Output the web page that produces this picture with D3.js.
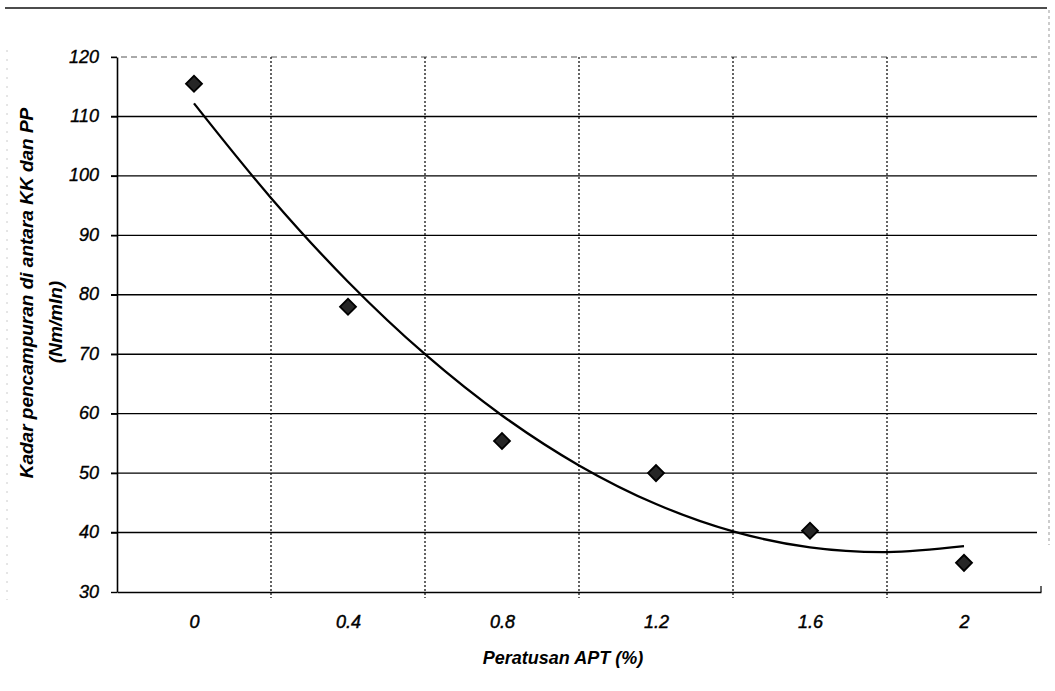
<!DOCTYPE html>
<html>
<head>
<meta charset="utf-8">
<script src="https://cdn.jsdelivr.net/npm/d3@7"></script>
<style>
  body { margin: 0; background: #fff; }
  text { font-family: Arial, "Liberation Sans", sans-serif; font-style: italic; fill: #000; }
</style>
</head>
<body>
<script>
// data
var percentAPT = [0, 0.4, 0.8, 1.2, 1.6, 2];
var mixingRate = [115.5, 78, 55.4, 50, 40.3, 34.9];
var xTickLabels = ["0", "0.4", "0.8", "1.2", "1.6", "2"];
var yTicks = [30, 40, 50, 60, 70, 80, 90, 100, 110, 120];
// trend line, read at every 0.2 along the curve
var trendX = [0, 0.2, 0.4, 0.6, 0.8, 1.0, 1.2, 1.4, 1.6, 1.8, 2.0];
var trendY = [112.2, 96.3, 82.2, 70.0, 59.7, 51.3, 44.8, 40.2, 37.5, 36.7, 37.7];
var gridX = [0.2, 0.6, 1.0, 1.4, 1.8];

function main(){
    var canvasWidth = 1055;
    var canvasHeight = 691;

    var svg = d3.select("body").append("svg")
        .attr("width", canvasWidth)
        .attr("height", canvasHeight);

    var left = 117, right = 1041, top = 57, bottom = 592;

    var x = d3.scaleLinear().domain([-0.2, 2.2]).range([left, right]);
    var y = d3.scaleLinear().domain([30, 120]).range([bottom, top]);

    // page frame (scan border)
    svg.append("line")
        .attr("x1", 5).attr("x2", 1047).attr("y1", 8).attr("y2", 8)
        .attr("stroke", "#111").attr("stroke-width", 1.5);
    svg.append("line")
        .attr("x1", 1049).attr("x2", 1049).attr("y1", 10).attr("y2", 545)
        .attr("stroke", "#999").attr("stroke-width", 1).attr("stroke-dasharray", "3,3");
    svg.append("line")
        .attr("x1", 7).attr("x2", 7).attr("y1", 50).attr("y2", 600)
        .attr("stroke", "#ccc").attr("stroke-width", 1).attr("stroke-dasharray", "2,7");

    // horizontal gridlines
    svg.append("g").selectAll("line")
        .data(yTicks.filter(function(d){ return d > 30; }))
        .enter().append("line")
        .attr("x1", left - 6)
        .attr("x2", right - 4)
        .attr("y1", function(d){ return y(d); })
        .attr("y2", function(d){ return y(d); })
        .attr("stroke", function(d){ return d == 120 ? "#555" : "#000"; })
        .attr("stroke-width", function(d){ return d == 120 ? 1 : 1.4; })
        .attr("stroke-dasharray", function(d){ return d == 120 ? "6,4" : null; });

    // vertical gridlines (dotted)
    svg.append("g").selectAll("line")
        .data(gridX)
        .enter().append("line")
        .attr("x1", function(d){ return x(d); })
        .attr("x2", function(d){ return x(d); })
        .attr("y1", top)
        .attr("y2", bottom + 6)
        .attr("stroke", "#111")
        .attr("stroke-width", 1.3)
        .attr("stroke-dasharray", "2,2");

    // Y axis
    var yAxis = svg.append("g")
        .attr("transform", "translate(" + left + ",0)")
        .call(d3.axisLeft(y).tickValues(yTicks).tickSize(6).tickSizeOuter(0).tickPadding(12));
    yAxis.select(".domain").attr("stroke", "#000").attr("stroke-width", 1.6);
    yAxis.selectAll(".tick line").attr("stroke", "#000").attr("stroke-width", 1.4);
    yAxis.selectAll("text")
        .attr("font-size", "18px")
        .attr("font-family", "Arial, 'Liberation Sans', sans-serif")
        .attr("stroke", "#000").attr("stroke-width", 0.35)
        .attr("dy", "0.28em");

    // X axis
    var xAxis = svg.append("g")
        .attr("transform", "translate(0," + bottom + ")")
        .call(d3.axisBottom(x).tickValues(percentAPT).tickSize(0).tickSizeOuter(0).tickPadding(23)
            .tickFormat(function(d, i){ return xTickLabels[i]; }));
    xAxis.select(".domain").attr("stroke", "#000").attr("stroke-width", 1.6);
    xAxis.selectAll("text")
        .attr("font-size", "18px")
        .attr("font-family", "Arial, 'Liberation Sans', sans-serif")
        .attr("stroke", "#000").attr("stroke-width", 0.45);
    svg.append("line")
        .attr("x1", right).attr("x2", right).attr("y1", bottom - 6).attr("y2", bottom)
        .attr("stroke", "#000").attr("stroke-width", 1.2);

    // trend line
    var line = d3.line()
        .x(function(d, i){ return x(trendX[i]); })
        .y(function(d){ return y(d); })
        .curve(d3.curveCatmullRom);
    svg.append("path")
        .datum(trendY)
        .attr("d", line)
        .attr("fill", "none")
        .attr("stroke", "#000")
        .attr("stroke-width", 2.3);

    // diamond markers
    svg.append("g").selectAll("path")
        .data(mixingRate)
        .enter().append("path")
        .attr("d", d3.symbol(d3.symbolSquare, 128))
        .attr("transform", function(d, i){
            return "translate(" + x(percentAPT[i]) + "," + y(d) + ") rotate(45)";
        })
        .attr("fill", "#262626")
        .attr("stroke", "#000")
        .attr("stroke-width", 1.8);

    // axis titles
    svg.append("text")
        .attr("x", 563)
        .attr("y", 664)
        .attr("text-anchor", "middle")
        .attr("font-size", "18px")
        .attr("font-weight", "bold")
        .text("Peratusan APT (%)");

    svg.append("text")
        .attr("transform", "translate(33,293) rotate(-90)")
        .attr("text-anchor", "middle")
        .attr("font-size", "19px")
        .attr("font-weight", "bold")
        .text("Kadar pencampuran di antara KK dan PP");

    svg.append("text")
        .attr("transform", "translate(62,322) rotate(-90)")
        .attr("text-anchor", "middle")
        .attr("font-size", "19px")
        .attr("font-weight", "bold")
        .text("(Nm/mIn)");
}
main();
</script>
</body>
</html>
